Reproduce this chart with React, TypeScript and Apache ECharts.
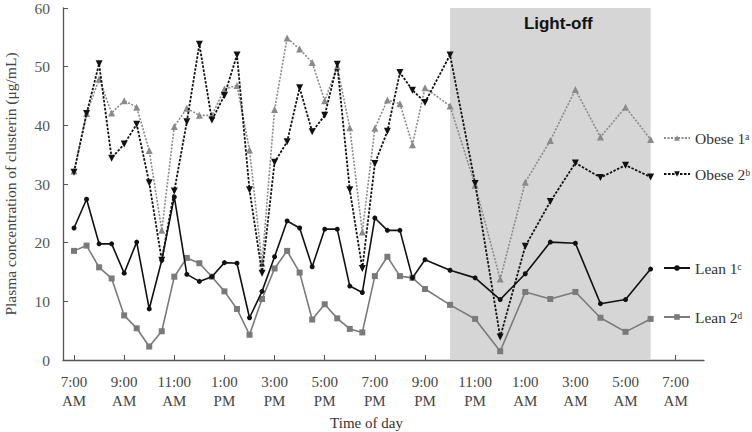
import React, { useEffect, useRef } from "react";
import * as echarts from "echarts";

// Sampling times in hours from midnight of day 1 (7:00 AM .. 6:00 AM next day)
const TIMES: number[] = [
  7, 7.5, 8, 8.5, 9, 9.5, 10, 10.5, 11, 11.5, 12, 12.5, 13, 13.5, 14, 14.5, 15, 15.5,
  16, 16.5, 17, 17.5, 18, 18.5, 19, 19.5, 20, 20.5, 21,
  22, 23, 24, 25, 26, 27, 28, 29, 30,
];

const OBESE1: number[] = [
  32.2, 42.0, 47.9, 42.1, 44.2, 43.1, 35.7, 22.1, 39.8, 42.9, 41.7, 41.7, 46.2, 46.8, 35.8, 16.5,
  42.7, 54.9, 53.0, 50.7, 44.2, 50.0, 39.6, 21.8, 39.5, 44.3, 43.7, 36.7, 46.4,
  43.3, 29.8, 13.8, 30.3, 37.4, 46.1, 38.0, 43.1, 37.6,
];
const OBESE2: number[] = [
  32.0, 42.0, 50.5, 34.4, 36.8, 40.2, 30.2, 17.0, 28.8, 40.6, 53.8, 40.9, 45.1, 52.0, 29.0, 14.8,
  33.7, 37.2, 46.4, 38.9, 41.7, 50.4, 29.0, 15.6, 33.5, 39.0, 49.0, 46.0, 43.9,
  52.0, 30.1, 3.9, 19.4, 27.0, 33.6, 31.1, 33.2, 31.2,
];
const LEAN1: number[] = [
  22.5, 27.4, 19.8, 19.8, 14.8, 20.1, 8.7, 17.0, 27.8, 14.6, 13.4, 14.2, 16.6, 16.5, 7.2, 11.7,
  17.6, 23.7, 22.5, 15.9, 22.3, 22.3, 12.6, 11.5, 24.2, 22.1, 22.1, 14.0, 17.1,
  15.3, 14.0, 10.3, 14.7, 20.1, 19.9, 9.6, 10.3, 15.5,
];
const LEAN2: number[] = [
  18.6, 19.5, 15.8, 13.9, 7.6, 5.4, 2.3, 4.9, 14.2, 17.4, 16.5, 14.2, 11.7, 8.7, 4.3, 10.4,
  15.6, 18.6, 14.9, 6.9, 9.5, 7.1, 5.3, 4.7, 14.3, 17.6, 14.3, 14.0, 12.1,
  9.4, 7.0, 1.5, 11.6, 10.4, 11.6, 7.2, 4.8, 7.0,
];

const SERIES_NAMES: string[] = ["Obese 1ᵃ", "Obese 2ᵇ", "Lean 1ᶜ", "Lean 2ᵈ"];
const TICK_HOURS: number[] = [7, 9, 11, 13, 15, 17, 19, 21, 23, 25, 27, 29, 31];
const LIGHT_OFF: [number, number] = [22, 30];
const LIGHT_OFF_LABEL = "Light-off";
const Y_TITLE = "Plasma concentration of clusterin (μg/mL)";
const X_TITLE = "Time of day";

const SERIF = "'Liberation Serif', 'Times New Roman', serif";

function hourLabel(v: number): string {
  const h = ((Math.round(v) % 24) + 24) % 24;
  const ampm = h < 12 ? "AM" : "PM";
  let hh = h % 12;
  if (hh === 0) hh = 12;
  return `${hh}:00\n${ampm}`;
}

function pairs(vals: number[]): [number, number][] {
  return vals.map((v, i) => [TIMES[i], v]);
}

export default function App() {
  const ref = useRef<HTMLDivElement>(null);
  useEffect(() => {
    if (!ref.current) return;
    const chart = echarts.init(ref.current, undefined, { renderer: "svg" });

    const legendTops = [130, 166, 260, 309];
    const legends = SERIES_NAMES.map((n, i) => ({
      data: [n],
      left: 663,
      top: legendTops[i],
      padding: 0,
      itemWidth: 26,
      itemHeight: 7,
      itemGap: 5,
      textStyle: { fontFamily: SERIF, fontSize: 15.5, color: "#333" },
    }));

    const option: any = {
      animation: false,
      backgroundColor: "#fff",
      grid: { left: 63, right: 48, top: 8, bottom: 72, containLabel: false, outerBoundsMode: "none" },
      legend: legends,
      xAxis: {
        type: "value",
        min: 6.56,
        max: 32.13,
        name: X_TITLE,
        nameLocation: "middle",
        nameGap: 55,
        nameTextStyle: { fontFamily: SERIF, fontSize: 15, color: "#333", padding: [0, 34, 0, 0] },
        axisLine: { show: true, lineStyle: { color: "#555", width: 1.3 } },
        axisTick: { show: true, inside: true, length: 5, customValues: TICK_HOURS, lineStyle: { color: "#555" } },
        axisLabel: {
          customValues: TICK_HOURS,
          formatter: (v: number) => hourLabel(v),
          fontFamily: SERIF,
          fontSize: 15,
          lineHeight: 19,
          color: "#444",
          margin: 12,
        },
        splitLine: { show: false },
      },
      yAxis: {
        type: "value",
        min: 0,
        max: 60,
        interval: 10,
        name: Y_TITLE,
        nameLocation: "middle",
        nameGap: 45,
        nameTextStyle: { fontFamily: SERIF, fontSize: 15.5, color: "#444" },
        axisLine: { show: true, lineStyle: { color: "#555", width: 1.3 } },
        axisTick: { show: true, inside: true, length: 5, lineStyle: { color: "#555" } },
        axisLabel: { fontFamily: SERIF, fontSize: 15.5, color: "#555", margin: 13 },
        splitLine: { show: false },
      },
      series: [
        {
          type: "line",
          name: "_shade",
          data: [],
          z: 1,
          silent: true,
          markArea: {
            silent: true,
            itemStyle: { color: "#d6d6d6" },
            label: {
              show: true,
              position: "insideTop",
              distance: 7,
              offset: [8, 0],
              fontFamily: "'Liberation Sans', Arial, sans-serif",
              fontWeight: "bold",
              fontSize: 17,
              color: "#111",
            },
            data: [[{ xAxis: LIGHT_OFF[0], name: LIGHT_OFF_LABEL }, { xAxis: LIGHT_OFF[1] }]],
          },
        },
        {
          type: "line",
          name: SERIES_NAMES[0],
          data: pairs(OBESE1),
          z: 3,
          symbol: "triangle",
          symbolSize: 7,
          lineStyle: { color: "#8a8a8a", width: 1.6, type: [2, 1.5] },
          itemStyle: { color: "#8a8a8a" },
        },
        {
          type: "line",
          name: SERIES_NAMES[1],
          data: pairs(OBESE2),
          z: 4,
          symbol: "triangle",
          symbolRotate: 180,
          symbolSize: 7,
          lineStyle: { color: "#111", width: 1.8, type: [2.5, 1.5] },
          itemStyle: { color: "#111" },
        },
        {
          type: "line",
          name: SERIES_NAMES[2],
          data: pairs(LEAN1),
          z: 5,
          symbol: "circle",
          symbolSize: 5,
          lineStyle: { color: "#111", width: 1.6 },
          itemStyle: { color: "#111" },
        },
        {
          type: "line",
          name: SERIES_NAMES[3],
          data: pairs(LEAN2),
          z: 3,
          symbol: "rect",
          symbolSize: 6,
          lineStyle: { color: "#7a7a7a", width: 1.6 },
          itemStyle: { color: "#7a7a7a" },
        },
      ],
    };
    chart.setOption(option);
    return () => chart.dispose();
  }, []);
  return <div ref={ref} style={{ width: 752, height: 432, position: "absolute", left: 0, top: 0 }} />;
}
